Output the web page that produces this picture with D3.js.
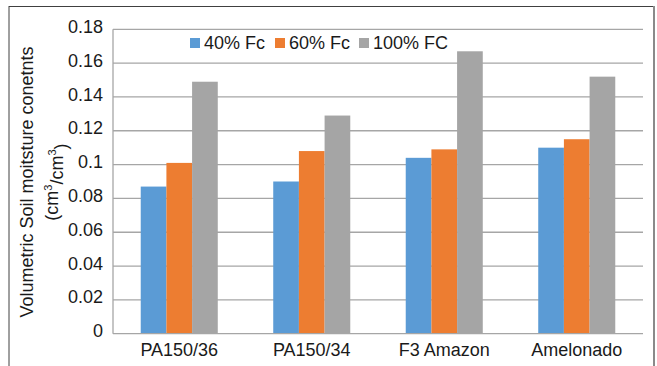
<!DOCTYPE html>
<html>
<head>
<meta charset="utf-8">
<script src="https://cdn.jsdelivr.net/npm/d3@7"></script>
<style>
  html, body { margin: 0; padding: 0; background: #fff; }
  svg { display: block; font-family: "Liberation Sans", Arial, sans-serif; }
</style>
</head>
<body>
<svg id="chart" width="657" height="366"></svg>
<script>
// Soil moisture by cultivar under three field-capacity treatments
const categories = ["PA150/36", "PA150/34", "F3 Amazon", "Amelonado"];
const seriesNames = ["40% Fc", "60% Fc", "100% FC"];
const fc40 = [0.087, 0.090, 0.104, 0.110];
const fc60 = [0.101, 0.108, 0.109, 0.115];
const fc100 = [0.149, 0.129, 0.167, 0.152];
const yTicks = [0, 0.02, 0.04, 0.06, 0.08, 0.1, 0.12, 0.14, 0.16, 0.18];
const colors = ["#5b9bd5", "#ed7d31", "#a5a5a5"];

const seriesValues = [fc40, fc60, fc100];

const svg = d3.select("#chart");
const plotLeft = 113, plotRight = 643, plotTop = 29.3, plotBottom = 333.7;

// Outer frame
svg.append("line").attr("x1", 9).attr("x2", 9).attr("y1", 6).attr("y2", 370)
  .attr("stroke", "#404040").attr("stroke-width", 1);
svg.append("line").attr("x1", 9).attr("x2", 654).attr("y1", 6.5).attr("y2", 6.5)
  .attr("stroke", "#404040").attr("stroke-width", 1);
svg.append("line").attr("x1", 654).attr("x2", 654).attr("y1", 6).attr("y2", 370)
  .attr("stroke", "#8a8a8a").attr("stroke-width", 2);

const x0 = d3.scaleBand().domain(categories).range([plotLeft, plotRight]).padding(0);
const x1 = d3.scaleBand().domain(seriesNames).range([0, x0.bandwidth()])
  .paddingInner(0).paddingOuter(1.08);
const y = d3.scaleLinear().domain([0, 0.18]).range([plotBottom, plotTop]);

// Horizontal gridlines
svg.append("g").selectAll("line").data(yTicks.filter(d => d > 0)).join("line")
  .attr("x1", plotLeft).attr("x2", plotRight)
  .attr("y1", d => y(d)).attr("y2", d => y(d))
  .attr("stroke", "#a6a6a6").attr("stroke-width", 1.3);

// Y tick labels
svg.append("g").selectAll("text").data(yTicks).join("text")
  .attr("x", 103).attr("y", d => y(d)).attr("dy", "0.2em")
  .attr("text-anchor", "end").attr("font-size", 18).attr("fill", "#1a1a1a")
  .text(d => d3.format("~g")(d));

// Bars
const groups = svg.append("g").selectAll("g").data(categories).join("g")
  .attr("transform", c => `translate(${x0(c)},0)`);
groups.selectAll("rect")
  .data((c, i) => seriesNames.map((s, k) => ({ s, k, v: seriesValues[k][i] })))
  .join("rect")
  .attr("x", d => x1(d.s)).attr("width", x1.bandwidth())
  .attr("y", d => y(d.v)).attr("height", d => y(0) - y(d.v))
  .attr("fill", d => colors[d.k]);

// Axis lines
svg.append("line").attr("x1", plotLeft).attr("x2", plotLeft).attr("y1", plotTop).attr("y2", plotBottom)
  .attr("stroke", "#a6a6a6").attr("stroke-width", 1.3);
svg.append("line").attr("x1", plotLeft).attr("x2", plotRight).attr("y1", plotBottom).attr("y2", plotBottom)
  .attr("stroke", "#a6a6a6").attr("stroke-width", 1.3);

// Category labels
svg.append("g").selectAll("text").data(categories).join("text")
  .attr("x", c => x0(c) + x0.bandwidth() / 2).attr("y", 356)
  .attr("text-anchor", "middle").attr("font-size", 18).attr("fill", "#1a1a1a")
  .text(c => c);

// Y axis title
svg.append("text").attr("transform", "translate(27,182) rotate(-90)")
  .attr("text-anchor", "middle").attr("dy", "0.35em")
  .attr("font-size", 18).attr("fill", "#1a1a1a")
  .text("Volumetric Soil moitsture conetnts");
const t2 = svg.append("text").attr("transform", "translate(52,182) rotate(-90)")
  .attr("text-anchor", "middle").attr("dy", "0.35em")
  .attr("font-size", 18).attr("fill", "#1a1a1a");
t2.append("tspan").text("(cm");
t2.append("tspan").attr("font-size", 11).attr("dy", "-0.6em").text("3");
t2.append("tspan").attr("dy", "0.6em").text("/cm");
t2.append("tspan").attr("font-size", 11).attr("dy", "-0.6em").text("3");
t2.append("tspan").attr("dy", "0.6em").text(")");

// Legend
const legendX = [190, 275, 359];
const legend = svg.append("g").selectAll("g").data(seriesNames).join("g")
  .attr("transform", (d, i) => `translate(${legendX[i]},38)`);
legend.append("rect").attr("width", 10).attr("height", 10)
  .attr("fill", (d, i) => colors[i]);
legend.append("text").attr("x", 14).attr("y", 11)
  .attr("font-size", 18).attr("fill", "#1a1a1a").text(d => d);
</script>
</body>
</html>
